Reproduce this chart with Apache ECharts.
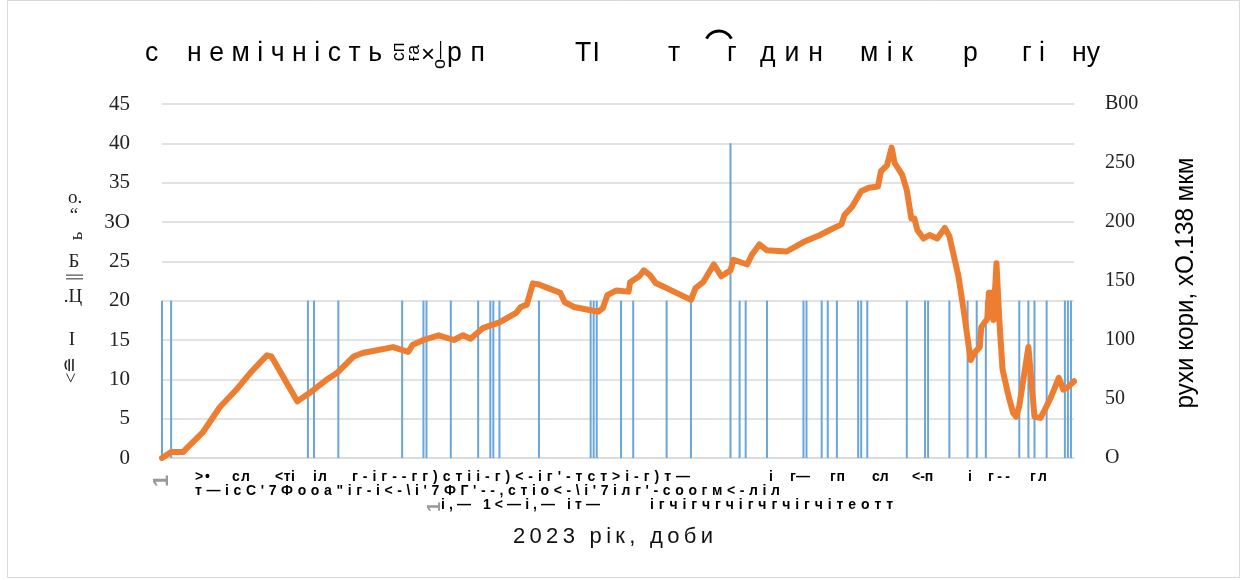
<!DOCTYPE html>
<html>
<head>
<meta charset="utf-8">
<script src="https://cdn.jsdelivr.net/npm/echarts@6/dist/echarts.min.js"></script>
<style>
html,body{margin:0;padding:0;background:#fff;}
#chart{width:1248px;height:580px;}
</style>
</head>
<body>
<div id="chart"></div>
<script>
// ---- data ----
const leftTickLabels = ['0','5','10','15','20','25','3O','35','40','45'];
const rightTickLabels = ['O','50','100','150','200','250','B00'];
const rainDays = [0,3,48,50,58,79,86,87,95,104,108,109,111,124,141,142,143,151,155,166,174,187,190,192,199,211,212,217,219,222,229,230,232,245,251,252,259,265,268,271,282,285,287,291,297,298,299];
const rainValues = [20,20,20,20,20,20,20,20,20,20,20,20,20,20,20,20,20,20,20,20,20,40,20,20,20,20,20,20,20,20,20,20,20,20,20,20,20,20,20,20,20,20,20,20,20,20,20];
const moveDays = [0,3,7,8,13.5,19,24.5,29,34.5,36,44.5,48.5,54,57.5,63,66,76,81,82.5,86,91,96,99,101.5,105.5,111,116.5,118,120,122,124,127,131,132.5,135.5,143.5,145,146.5,149.5,153.5,154,157,158.5,160.5,162.5,166,174,175.5,178,181.5,184,187,188,192.5,194,196.5,199,205.5,211,216.5,219.5,223.5,224.5,227,230,232.5,235.5,236.5,238.5,240,241,243.5,245,246.5,247.5,248.5,250.5,252.5,255,257.5,259,262,264,266,267.5,269,269.5,271.5,272,273,273.5,274.5,275,275.5,276.5,278.5,280,281,282,285,287,289,291,292.5,295,296.5,298,300];
const moveValues = [0,5,5,8,22,43,58,72,87,86,48,55,66,72,86,89,94,90,96,100,104,100,104,101,110,115,123,128,130,148,147,144,140,132,128,124,127,138,142,141,149,154,159,155,148,144,134,144,149,164,154,159,168,164,172,181,176,175,183,189,193,198,206,213,226,229,230,243,248,263,250,240,227,203,203,193,186,189,186,195,188,154,120,83,90,94,111,118,140,140,117,165,165,114,75,52,38,35,44,94,35,34,44,52,68,58,60,65];
const xAxisTitle = '2023 рік, доби';
const rightAxisTitle = 'рухи кори, хО.138 мкм';
const titleWords = ['с','немічність','рп','ТІ','т','г','дин','мік','р','гі','ну'];
const xLabelRow1 = ['>•','сл','<ті','іл','г-іг--гг)стіі-г)<-іг\'-тст>і-г)т—','і','г—','гп','сл','<-п','і','г--','гл'];
const xLabelRow2 = ['т—ісС\'7Фооа"іг-і<-\\і\'7ФГ\'--,стіо<-\\і\'7ілг\'-соогм<-ліл'];
const xLabelRow3 = ['і,— 1<—і,— іт—','ігчігчгчігчгчігчітеотт'];
const leftAxisGlyphs = ['о.','“','ь','Б','||','.Ц','I','<≘'];

const rainData = rainDays.map((d,i)=>[d, rainValues[i]]);
const moveData = moveDays.map((d,i)=>[d, moveValues[i]]);

const chart = echarts.init(document.getElementById('chart'), null, {renderer:'canvas'});

const sans = 'Liberation Sans, Arial, sans-serif';
const serif = 'Liberation Serif, Times New Roman, serif';
const mctx = document.createElement('canvas').getContext('2d');

// letter-spaced text laid out to a given span [x0,x1]
function spaced(text, x0, x1, y, font, fill, sx){
  sx = sx || 1;
  mctx.font = font;
  const chars = Array.from(text);
  const widths = chars.map(c=>mctx.measureText(c).width*sx);
  const total = widths.reduce((a,b)=>a+b,0);
  const gap = chars.length>1 && x1!=null ? Math.max(0,(x1-x0-total)/(chars.length-1)) : 0;
  const children = [];
  let cx = x0;
  chars.forEach((c,i)=>{
    children.push({type:'text', x:cx, y:y, scaleX:sx, style:{text:c, font:font, fill:fill, verticalAlign:'middle'}});
    cx += widths[i]+gap;
  });
  return {type:'group', children:children};
}

const graphics = [];
graphics.push({type:'rect', shape:{x:7.5,y:0.5,width:1232,height:577}, style:{fill:'none', stroke:'#D9D9D9', lineWidth:1}, silent:true, z:-10});

const titleSpan = [[145,160],[187,382],[447,485],[575,600],[668,680],[727,738],[760,823],[860,913],[963,978],[1022,1045],[1072,1100]];
const titleFont = '28px '+sans;
titleWords.forEach((w,i)=>{
  graphics.push(spaced(w, titleSpan[i][0], titleSpan[i][1], 53, titleFont, '#000', 0.95));
});
// garbled stacked glyphs in title
graphics.push({type:'text', x:399, y:52, rotation:Math.PI/2, style:{text:'сп', font:'18px '+sans, fill:'#000', align:'center', verticalAlign:'middle'}});
graphics.push({type:'text', x:414, y:53, rotation:Math.PI/2, style:{text:'ға', font:'18px '+sans, fill:'#000', align:'center', verticalAlign:'middle'}});
graphics.push({type:'text', x:428, y:55, style:{text:'×', font:'24px '+sans, fill:'#000', align:'center', verticalAlign:'middle'}});
graphics.push({type:'text', x:440, y:55, rotation:Math.PI/2, style:{text:'о—', font:'18px '+sans, fill:'#000', align:'center', verticalAlign:'middle'}});
graphics.push({type:'arc', shape:{cx:719, cy:45, r:14, startAngle:Math.PI*1.15, endAngle:Math.PI*1.85}, style:{stroke:'#000', lineWidth:3, fill:'none'}});

// x label rows
const xFont = 'bold 14px '+sans;
const row1Span = [[195,210],[232,250],[275,295],[313,327],[352,690],[769,null],[790,810],[830,845],[872,888],[912,933],[968,null],[988,1010],[1030,1047]];
xLabelRow1.forEach((t,i)=>{ graphics.push(spaced(t, row1Span[i][0], row1Span[i][1], 477, xFont, '#000')); });
const row2Span = [[195,780]];
xLabelRow2.forEach((t,i)=>{ graphics.push(spaced(t, row2Span[i][0], row2Span[i][1], 491, xFont, '#000')); });
const row3Span = [[441,600],[650,893]];
xLabelRow3.forEach((t,i)=>{ graphics.push(spaced(t, row3Span[i][0], row3Span[i][1], 505, xFont, '#000')); });
graphics.push({type:'text', x:162, y:481, rotation:Math.PI/2, style:{text:'1', font:'bold 22px '+sans, fill:'#999', align:'center', verticalAlign:'middle'}});
graphics.push({type:'text', x:435, y:507, rotation:Math.PI/2, style:{text:'1', font:'bold 18px '+sans, fill:'#999', align:'center', verticalAlign:'middle'}});

// garbled left axis title glyphs
const lgPos = [[75,198,0],[74,216,0],[77,236,Math.PI/2],[74,262,0],[74,277,Math.PI/2],[73,297,0],[72,340,0],[72,370,Math.PI/2]];
leftAxisGlyphs.forEach((t,i)=>{
  const p = lgPos[i];
  graphics.push({type:'text', x:p[0], y:p[1], rotation:p[2], style:{text:t, font:'19px '+serif, fill:'#222', align:'center', verticalAlign:'middle'}});
});

// axis titles
graphics.push(spaced(xAxisTitle, 513, 713, 537, '22px '+sans, '#111'));
graphics.push({type:'text', x:1186, y:283, rotation:Math.PI/2, scaleX:0.93, style:{text:rightAxisTitle, font:'26px '+sans, fill:'#000', align:'center', verticalAlign:'middle'}});

const option = {
  backgroundColor:'#fff',
  animation:false,
  grid:{left:162, right:174, top:104, bottom:122, containLabel:false},
  xAxis:{type:'value', min:0, max:300, axisLabel:{show:false}, axisTick:{show:false}, splitLine:{show:false},
    axisLine:{show:true, onZero:false, lineStyle:{color:'#D9D9D9', width:1.5}}},
  yAxis:[
    {type:'value', min:0, max:45, interval:5, position:'left',
      axisLine:{show:false}, axisTick:{show:false},
      splitLine:{show:true, lineStyle:{color:'#D9D9D9', width:1.5}},
      axisLabel:{margin:32, color:'#222', fontFamily:'Liberation Serif', fontSize:21,
        formatter:(v)=>leftTickLabels[Math.round(v/5)]}},
    {type:'value', min:0, max:300, interval:50, position:'right',
      axisLine:{show:false}, axisTick:{show:false}, splitLine:{show:false},
      axisLabel:{margin:31, color:'#222', fontFamily:'Liberation Serif', fontSize:20,
        formatter:(v)=>rightTickLabels[Math.round(v/50)]}}
  ],
  series:[
    {type:'bar', data:rainData, yAxisIndex:0, barWidth:2, itemStyle:{color:'#6AA5DB'}, z:2},
    {type:'line', data:moveData, yAxisIndex:1, showSymbol:false, symbol:'none',
      lineStyle:{color:'#ED7D31', width:6, join:'round', cap:'round'}, z:3}
  ],
  graphic:graphics
};
chart.setOption(option);
</script>
</body>
</html>
